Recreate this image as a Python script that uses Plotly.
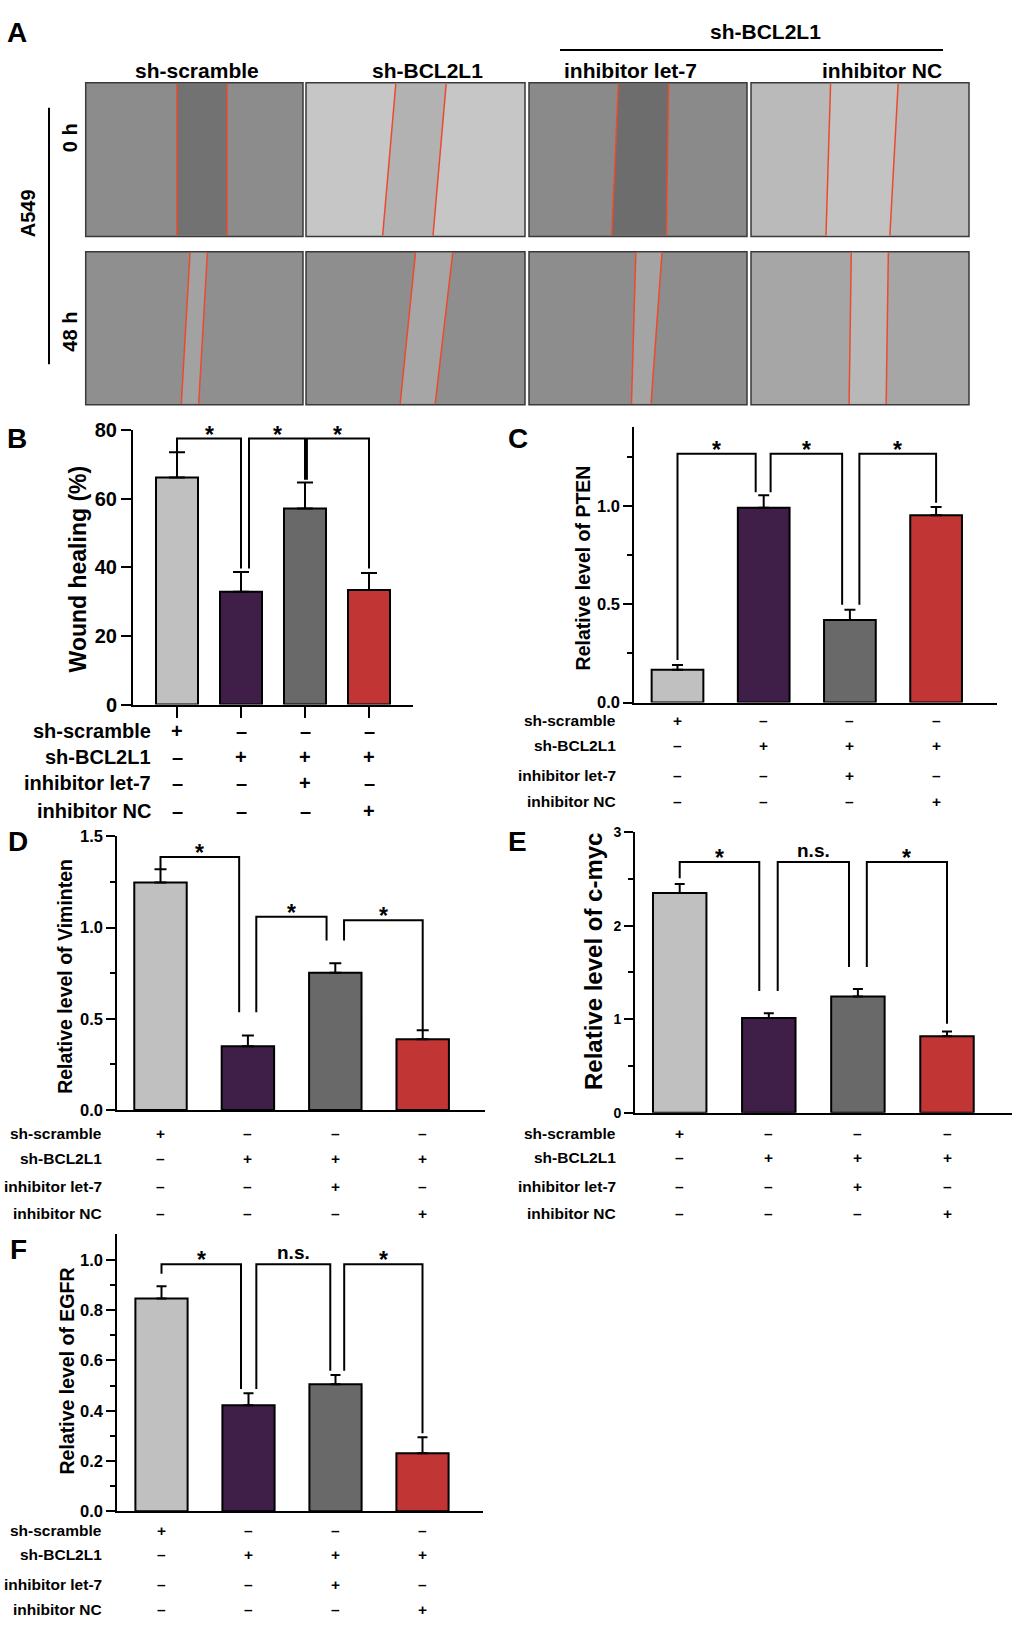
import plotly.graph_objects as go

W, H = 1015, 1637
def PX(p):
    return p / W
def PY(p):
    return 1 - p / H

FONT = "Liberation Sans, Arial, sans-serif"

# ---------------- data ----------------
row_labels = ["sh-scramble", "sh-BCL2L1", "inhibitor let-7", "inhibitor NC"]
row_signs = [["+", "–", "–", "–"],
             ["–", "+", "+", "+"],
             ["–", "–", "+", "–"],
             ["–", "–", "–", "+"]]
groups = [0, 1, 2, 3]
bar_colors = ["#c0c0c0", "#3f1e47", "#696969", "#c13535"]

wound_mean = [66.2, 32.9, 57.2, 33.4]
wound_err = [7.4, 5.8, 7.6, 5.0]
pten_mean = [0.167, 0.99, 0.42, 0.952]
pten_err = [0.024, 0.063, 0.052, 0.042]
vim_mean = [1.247, 0.350, 0.753, 0.388]
vim_err = [0.073, 0.058, 0.052, 0.049]
myc_mean = [2.35, 1.013, 1.241, 0.816]
myc_err = [0.095, 0.050, 0.081, 0.053]
egfr_mean = [0.847, 0.422, 0.505, 0.231]
egfr_err = [0.048, 0.048, 0.037, 0.064]

# significance brackets: left/right leg x, top y, leg end y, label
br_B = dict(left=[0.0, 1.125, 2.03], right=[1.0, 2.0, 3.0], top=[77.6, 77.6, 77.6],
            lend=[73.6, 39.7, 65.6], rend=[39.7, 65.6, 39.7], label=["*", "*", "*"])
br_C = dict(left=[0.0, 1.08, 2.11], right=[0.907, 1.91, 3.0], top=[1.264, 1.264, 1.264],
            lend=[0.216, 1.069, 0.497], rend=[1.069, 0.497, 1.015], label=["*", "*", "*"])
br_D = dict(left=[0.0, 1.096, 2.10], right=[0.90, 1.90, 3.0], top=[1.388, 1.06, 1.041],
            lend=[1.321, 0.536, 0.93], rend=[0.536, 0.93, 0.437], label=["*", "*", "*"])
br_E = dict(left=[0.0, 1.10, 2.10], right=[0.893, 1.90, 3.0], top=[2.68, 2.68, 2.68],
            lend=[2.507, 1.30, 1.558], rend=[1.30, 1.558, 0.95], label=["*", "n.s.", "*"])
br_F = dict(left=[0.0, 1.09, 2.10], right=[0.914, 1.94, 3.0], top=[0.983, 0.983, 0.983],
            lend=[0.945, 0.487, 0.559], rend=[0.487, 0.559, 0.31], label=["*", "n.s.", "*"])

# panel A: wound edge positions (fraction of image width) top/bottom for each image
a_columns = ["sh-scramble", "sh-BCL2L1", "inhibitor let-7", "inhibitor NC"]
a_rows = ["0 h", "48 h"]
edge1_top = [[0.42, 0.41, 0.41, 0.365], [0.48, 0.50, 0.49, 0.46]]
edge1_bot = [[0.42, 0.35, 0.38, 0.344], [0.44, 0.43, 0.47, 0.45]]
edge2_top = [[0.65, 0.64, 0.64, 0.675], [0.56, 0.67, 0.61, 0.63]]
edge2_bot = [[0.65, 0.58, 0.63, 0.637], [0.52, 0.59, 0.56, 0.62]]
img_bg = [["#8c8c8c", "#c6c6c6", "#8a8a8a", "#bababa"], ["#8f8f8f", "#8e8e8e", "#8d8d8d", "#a6a6a6"]]
img_gap = [["#727272", "#b2b2b2", "#6d6d6d", "#c3c3c3"], ["#a2a2a2", "#a6a6a6", "#a4a4a4", "#b8b8b8"]]

# ---------------- layout of bar panels ----------------
panels = [
    dict(letter="B", mean=wound_mean, err=wound_err, br=br_B,
         xpx=(133, 413), ypx=(425, 703), yr=[0, 80], c0=177, sp=64,
         tv=[0, 20, 40, 60, 80], tt=["0", "20", "40", "60", "80"], minor=None,
         tfs=20, ticklen=10, title="Wound healing (%)", title_fs=23, title_xy=(78, 566),
         letter_xy=(17, 433), rows=[730, 756, 783, 811], lab_right=153, tab_fs=20,
         bw=0.656, cap=8, xticks=True),
    dict(letter="C", mean=pten_mean, err=pten_err, br=br_C,
         xpx=(634.3, 997), ypx=(421.7, 701), yr=[0, 1.40], c0=677.5, sp=86.2,
         tv=[0, 0.5, 1.0], tt=["0.0", "0.5", "1.0"], minor=[0.25, 0.75, 1.25],
         tfs=16.5, ticklen=9, title="Relative level of PTEN", title_fs=19.5, title_xy=(583, 565),
         letter_xy=(518, 433), rows=[719.5, 745, 774.5, 801.5], lab_right=618, tab_fs=15.5,
         bw=0.6, cap=5.5, xticks=False),
    dict(letter="D", mean=vim_mean, err=vim_err, br=br_D,
         xpx=(117.3, 485), ypx=(836.7, 1114), yr=[0, 1.5], c0=160.5, sp=87.4,
         tv=[0, 0.5, 1.0, 1.5], tt=["0.0", "0.5", "1.0", "1.5"], minor=[0.25, 0.75, 1.25],
         tfs=16.5, ticklen=9, title="Relative level of Viminten", title_fs=19.5, title_xy=(65, 979),
         letter_xy=(18, 842), rows=[1137.5, 1163, 1191.5, 1219], lab_right=104, tab_fs=15.5,
         bw=0.6, cap=6, xticks=False),
    dict(letter="E", mean=myc_mean, err=myc_err, br=br_E,
         xpx=(635, 1012), ypx=(832.3, 1116.7), yr=[0, 3], c0=679.7, sp=89.1,
         tv=[0, 1, 2, 3], tt=["0", "1", "2", "3"], minor=[0.5, 1.5, 2.5],
         tfs=14, ticklen=9, title="Relative level of c-myc", title_fs=24, title_xy=(593, 964),
         letter_xy=(517, 842), rows=[1137.5, 1162.5, 1191.5, 1218.5], lab_right=618, tab_fs=15.5,
         bw=0.6, cap=5, xticks=False),
    dict(letter="F", mean=egfr_mean, err=egfr_err, br=br_F,
         xpx=(117.3, 483), ypx=(1240, 1520.7), yr=[0, 1.102], c0=161.5, sp=87,
         tv=[0, 0.2, 0.4, 0.6, 0.8, 1.0], tt=["0.0", "0.2", "0.4", "0.6", "0.8", "1.0"],
         minor=[0.1, 0.3, 0.5, 0.7, 0.9],
         tfs=16.5, ticklen=9, title="Relative level of EGFR", title_fs=19.5, title_xy=(67, 1379),
         letter_xy=(18, 1255), rows=[1540, 1565, 1594.5, 1620.5], lab_right=104, tab_fs=15.5,
         bw=0.6, cap=5, xticks=False),
]

fig = go.Figure()
layout = dict(width=W, height=H, margin=dict(l=0, r=0, t=0, b=0),
              paper_bgcolor="white", plot_bgcolor="rgba(0,0,0,0)",
              showlegend=False, font=dict(family=FONT, color="black"))
annotations = []
shapes = []

for i, p in enumerate(panels, start=1):
    xa = "x" if i == 1 else f"x{i}"
    ya = "y" if i == 1 else f"y{i}"
    xkey = "xaxis" if i == 1 else f"xaxis{i}"
    ykey = "yaxis" if i == 1 else f"yaxis{i}"
    L, R = p["xpx"]
    T, B = p["ypx"]
    xr = [(L - p["c0"]) / p["sp"], (R - p["c0"]) / p["sp"]]
    layout[xkey] = dict(domain=[PX(L), PX(R)], range=xr, anchor=ya,
                        showline=True, linecolor="black", linewidth=2,
                        showgrid=False, zeroline=False,
                        tickvals=groups if p["xticks"] else [], showticklabels=False,
                        ticks="outside" if p["xticks"] else "", ticklen=11, tickwidth=2,
                        tickcolor="black", fixedrange=True)
    yax = dict(domain=[PY(B), PY(T)], range=p["yr"], anchor=xa,
               showline=True, linecolor="black", linewidth=2,
               showgrid=False, zeroline=False,
               tickvals=p["tv"], ticktext=p["tt"], ticks="outside",
               ticklen=p["ticklen"], tickwidth=2, tickcolor="black",
               tickfont=dict(family=FONT, size=p["tfs"], weight="bold", color="black"),
               fixedrange=True)
    if p["minor"]:
        yax["minor"] = dict(tickvals=p["minor"], ticks="outside", ticklen=5,
                            tickwidth=2, tickcolor="black")
    layout[ykey] = yax

    fig.add_trace(go.Bar(x=groups, y=p["mean"], width=p["bw"], xaxis=xa, yaxis=ya,
                         marker=dict(color=bar_colors, line=dict(color="black", width=2)),
                         error_y=dict(type="data", array=p["err"], arrayminus=[0] * 4,
                                      symmetric=False, color="black", thickness=2,
                                      width=p["cap"]),
                         hoverinfo="skip"))
    # significance brackets
    bx, by = [], []
    br = p["br"]
    for k in range(len(br["left"])):
        bx += [br["left"][k], br["left"][k], br["right"][k], br["right"][k], None]
        by += [br["lend"][k], br["top"][k], br["top"][k], br["rend"][k], None]
        lab = br["label"][k]
        annotations.append(dict(x=(br["left"][k] + br["right"][k]) / 2, y=br["top"][k],
                                xref=xa, yref=ya, text=lab, showarrow=False,
                                xanchor="center", yanchor="bottom",
                                yshift=-11 if lab == "*" else -1,
                                font=dict(family=FONT, size=23 if lab == "*" else 19,
                                          weight="bold", color="black")))
    fig.add_trace(go.Scatter(x=bx, y=by, mode="lines", xaxis=xa, yaxis=ya,
                             line=dict(color="black", width=2), hoverinfo="skip"))
    # y title
    tx, ty = p["title_xy"]
    annotations.append(dict(x=PX(tx), y=PY(ty), xref="paper", yref="paper",
                            text=p["title"], textangle=-90, showarrow=False,
                            xanchor="center", yanchor="middle",
                            font=dict(family=FONT, size=p["title_fs"], weight="bold", color="black")))
    # panel letter
    lx, ly = p["letter_xy"]
    annotations.append(dict(x=PX(lx), y=PY(ly), xref="paper", yref="paper",
                            text=p["letter"], showarrow=False,
                            xanchor="center", yanchor="middle",
                            font=dict(family=FONT, size=28, weight="bold", color="black")))
    # condition table
    for r, lab in enumerate(row_labels):
        yy = PY(p["rows"][r])
        annotations.append(dict(x=PX(p["lab_right"]), y=yy, xref="paper", yref="paper",
                                text=lab, showarrow=False, xanchor="right", yanchor="middle",
                                font=dict(family=FONT, size=p["tab_fs"], weight="bold", color="black")))
        for c in groups:
            annotations.append(dict(x=c, y=yy, xref=xa, yref="paper",
                                    text=row_signs[r][c], showarrow=False,
                                    xanchor="center", yanchor="middle",
                                    font=dict(family=FONT, size=p["tab_fs"], weight="bold", color="black")))

# ---------------- panel A ----------------
col_x = [(85.7, 303), (306, 525), (529, 747), (751, 969)]
row_y = [(72.7, 228.5), (244, 399)]
for r in range(2):
    y0, y1 = row_y[r]
    for c in range(4):
        x0, x1 = col_x[c]
        w = x1 - x0
        shapes.append(dict(type="rect", xref="paper", yref="paper",
                           x0=PX(x0), x1=PX(x1), y0=PY(y1), y1=PY(y0),
                           fillcolor=img_bg[r][c], line=dict(color="#3a3a3a", width=1.5),
                           layer="below"))
        a_t = x0 + edge1_top[r][c] * w
        a_b = x0 + edge1_bot[r][c] * w
        b_t = x0 + edge2_top[r][c] * w
        b_b = x0 + edge2_bot[r][c] * w
        path = (f"M {PX(a_t)},{PY(y0 + 1)} L {PX(b_t)},{PY(y0 + 1)} "
                f"L {PX(b_b)},{PY(y1 - 1)} L {PX(a_b)},{PY(y1 - 1)} Z")
        shapes.append(dict(type="path", xref="paper", yref="paper", path=path,
                           fillcolor=img_gap[r][c], line=dict(width=0), layer="below"))
        for (xt, xb) in [(a_t, a_b), (b_t, b_b)]:
            shapes.append(dict(type="line", xref="paper", yref="paper",
                               x0=PX(xt), x1=PX(xb), y0=PY(y0 + 1), y1=PY(y1 - 1),
                               line=dict(color="#ec4a2c", width=1.5)))

header_x = [197, 427, 630, 882]
for c, lab in enumerate(a_columns):
    annotations.append(dict(x=PX(header_x[c]), y=PY(60), xref="paper", yref="paper",
                            text=lab, showarrow=False, xanchor="center", yanchor="middle",
                            font=dict(family=FONT, size=21, weight="bold", color="black")))
annotations.append(dict(x=PX(765), y=PY(21), xref="paper", yref="paper",
                        text="sh-BCL2L1", showarrow=False, xanchor="center", yanchor="middle",
                        font=dict(family=FONT, size=21, weight="bold", color="black")))
shapes.append(dict(type="line", xref="paper", yref="paper",
                   x0=PX(560), x1=PX(943), y0=PY(39.5), y1=PY(39.5),
                   line=dict(color="black", width=2)))
annotations.append(dict(x=PX(17), y=PY(22), xref="paper", yref="paper",
                        text="A", showarrow=False, xanchor="center", yanchor="middle",
                        font=dict(family=FONT, size=28, weight="bold", color="black")))
for r, (lab, yc) in enumerate(zip(a_rows, [129, 325])):
    annotations.append(dict(x=PX(70), y=PY(yc), xref="paper", yref="paper",
                            text=lab, textangle=-90, showarrow=False,
                            xanchor="center", yanchor="middle",
                            font=dict(family=FONT, size=20, weight="bold", color="black")))
annotations.append(dict(x=PX(28), y=PY(205), xref="paper", yref="paper",
                        text="A549", textangle=-90, showarrow=False,
                        xanchor="center", yanchor="middle",
                        font=dict(family=FONT, size=20, weight="bold", color="black")))
shapes.append(dict(type="line", xref="paper", yref="paper",
                   x0=PX(49), x1=PX(49), y0=PY(98), y1=PY(358),
                   line=dict(color="black", width=2)))

layout["annotations"] = annotations
layout["shapes"] = shapes
fig.update_layout(**layout)
fig.write_html("out.html", config={"displayModeBar": False},
               post_script="document.body.style.margin='0px';document.body.style.overflow='hidden';")
